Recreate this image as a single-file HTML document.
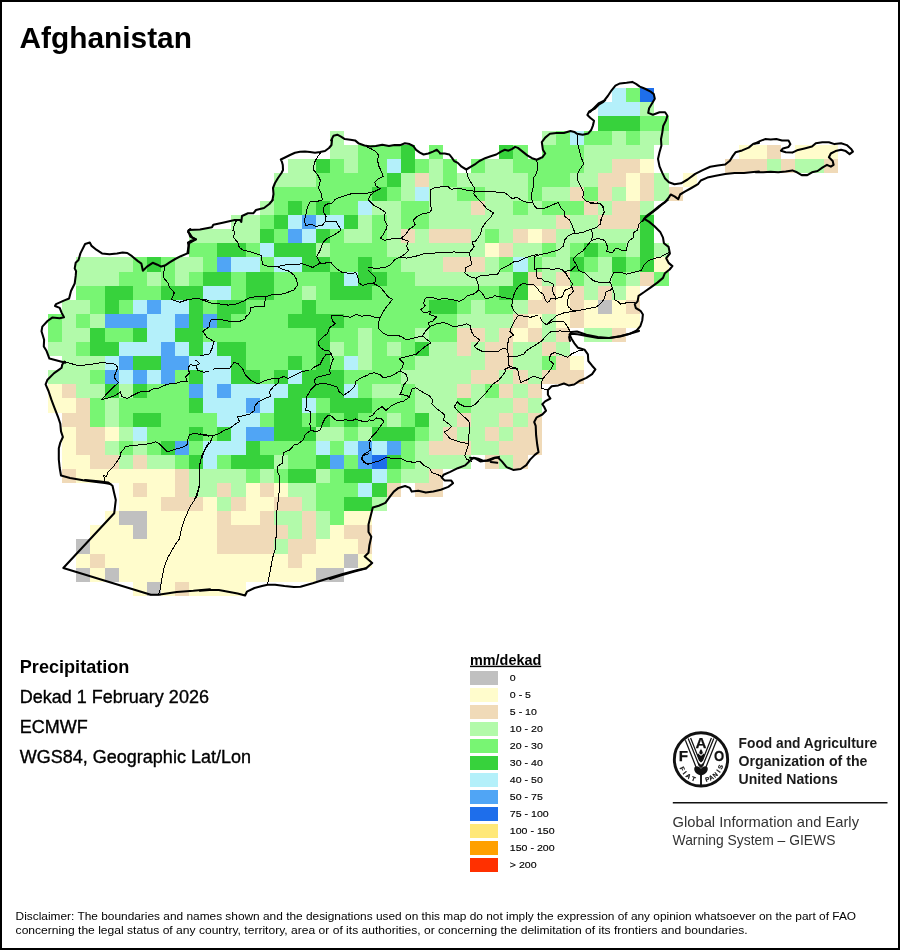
<!DOCTYPE html>
<html><head><meta charset="utf-8"><title>Afghanistan Precipitation</title>
<style>
html,body{margin:0;padding:0;background:#fff;}
body{width:900px;height:950px;overflow:hidden;font-family:"Liberation Sans",sans-serif;}
svg{display:block;position:absolute;left:0;top:0;will-change:transform;}
text{font-family:"Liberation Sans",sans-serif;fill:#000;}
</style></head><body>
<svg width="900" height="950" viewBox="0 0 900 950">
<rect x="0" y="0" width="900" height="950" fill="#fff"/>
<g shape-rendering="crispEdges">
<rect x="612" y="88" width="14" height="14" fill="#b4f0fa"/>
<rect x="626" y="88" width="14" height="14" fill="#78f573"/>
<rect x="640" y="88" width="14" height="14" fill="#1e6eeb"/>
<rect x="598" y="102" width="42" height="14" fill="#b4f0fa"/>
<rect x="640" y="102" width="14" height="14" fill="#b2faaa"/>
<rect x="598" y="116" width="42" height="15" fill="#37d23c"/>
<rect x="640" y="116" width="29" height="15" fill="#78f573"/>
<rect x="330" y="131" width="14" height="14" fill="#b2faaa"/>
<rect x="542" y="131" width="14" height="14" fill="#b2faaa"/>
<rect x="556" y="131" width="14" height="14" fill="#78f573"/>
<rect x="570" y="131" width="14" height="14" fill="#b4f0fa"/>
<rect x="584" y="131" width="28" height="14" fill="#78f573"/>
<rect x="612" y="131" width="14" height="14" fill="#b2faaa"/>
<rect x="626" y="131" width="14" height="14" fill="#78f573"/>
<rect x="640" y="131" width="29" height="14" fill="#b2faaa"/>
<rect x="330" y="145" width="28" height="14" fill="#b2faaa"/>
<rect x="358" y="145" width="43" height="14" fill="#78f573"/>
<rect x="401" y="145" width="14" height="14" fill="#37d23c"/>
<rect x="429" y="145" width="14" height="14" fill="#78f573"/>
<rect x="499" y="145" width="14" height="14" fill="#37d23c"/>
<rect x="513" y="145" width="15" height="14" fill="#78f573"/>
<rect x="542" y="145" width="42" height="14" fill="#78f573"/>
<rect x="584" y="145" width="70" height="14" fill="#b2faaa"/>
<rect x="739" y="145" width="28" height="14" fill="#fffccc"/>
<rect x="767" y="145" width="14" height="14" fill="#f0dab8"/>
<rect x="795" y="145" width="43" height="14" fill="#fffccc"/>
<rect x="288" y="159" width="28" height="14" fill="#b2faaa"/>
<rect x="316" y="159" width="14" height="14" fill="#37d23c"/>
<rect x="330" y="159" width="14" height="14" fill="#78f573"/>
<rect x="344" y="159" width="14" height="14" fill="#b2faaa"/>
<rect x="358" y="159" width="29" height="14" fill="#78f573"/>
<rect x="387" y="159" width="14" height="14" fill="#b4f0fa"/>
<rect x="401" y="159" width="14" height="14" fill="#37d23c"/>
<rect x="415" y="159" width="14" height="14" fill="#78f573"/>
<rect x="429" y="159" width="14" height="14" fill="#b2faaa"/>
<rect x="443" y="159" width="14" height="14" fill="#78f573"/>
<rect x="471" y="159" width="14" height="14" fill="#78f573"/>
<rect x="485" y="159" width="28" height="14" fill="#b2faaa"/>
<rect x="513" y="159" width="71" height="14" fill="#78f573"/>
<rect x="584" y="159" width="28" height="14" fill="#b2faaa"/>
<rect x="612" y="159" width="28" height="14" fill="#f0dab8"/>
<rect x="640" y="159" width="14" height="14" fill="#fffccc"/>
<rect x="725" y="159" width="42" height="14" fill="#f0dab8"/>
<rect x="767" y="159" width="14" height="14" fill="#b2faaa"/>
<rect x="781" y="159" width="14" height="14" fill="#f0dab8"/>
<rect x="795" y="159" width="29" height="14" fill="#b2faaa"/>
<rect x="824" y="159" width="14" height="14" fill="#f0dab8"/>
<rect x="274" y="173" width="42" height="14" fill="#b2faaa"/>
<rect x="316" y="173" width="71" height="14" fill="#78f573"/>
<rect x="387" y="173" width="14" height="14" fill="#37d23c"/>
<rect x="401" y="173" width="14" height="14" fill="#b2faaa"/>
<rect x="415" y="173" width="14" height="14" fill="#f0dab8"/>
<rect x="429" y="173" width="14" height="14" fill="#b2faaa"/>
<rect x="443" y="173" width="14" height="14" fill="#78f573"/>
<rect x="457" y="173" width="71" height="14" fill="#b2faaa"/>
<rect x="528" y="173" width="42" height="14" fill="#78f573"/>
<rect x="570" y="173" width="28" height="14" fill="#b2faaa"/>
<rect x="598" y="173" width="28" height="14" fill="#f0dab8"/>
<rect x="626" y="173" width="14" height="14" fill="#fffccc"/>
<rect x="640" y="173" width="14" height="14" fill="#f0dab8"/>
<rect x="654" y="173" width="15" height="14" fill="#b2faaa"/>
<rect x="683" y="173" width="14" height="14" fill="#fffccc"/>
<rect x="274" y="187" width="98" height="14" fill="#78f573"/>
<rect x="372" y="187" width="15" height="14" fill="#37d23c"/>
<rect x="387" y="187" width="14" height="14" fill="#78f573"/>
<rect x="401" y="187" width="14" height="14" fill="#b2faaa"/>
<rect x="415" y="187" width="14" height="14" fill="#b4f0fa"/>
<rect x="429" y="187" width="28" height="14" fill="#b2faaa"/>
<rect x="457" y="187" width="28" height="14" fill="#78f573"/>
<rect x="485" y="187" width="43" height="14" fill="#b2faaa"/>
<rect x="528" y="187" width="14" height="14" fill="#78f573"/>
<rect x="542" y="187" width="28" height="14" fill="#b2faaa"/>
<rect x="570" y="187" width="14" height="14" fill="#f0dab8"/>
<rect x="584" y="187" width="14" height="14" fill="#78f573"/>
<rect x="598" y="187" width="14" height="14" fill="#f0dab8"/>
<rect x="612" y="187" width="14" height="14" fill="#b2faaa"/>
<rect x="626" y="187" width="14" height="14" fill="#fffccc"/>
<rect x="640" y="187" width="14" height="14" fill="#f0dab8"/>
<rect x="654" y="187" width="15" height="14" fill="#b2faaa"/>
<rect x="669" y="187" width="14" height="14" fill="#f0dab8"/>
<rect x="260" y="201" width="14" height="14" fill="#b2faaa"/>
<rect x="274" y="201" width="14" height="14" fill="#78f573"/>
<rect x="288" y="201" width="14" height="14" fill="#37d23c"/>
<rect x="302" y="201" width="14" height="14" fill="#78f573"/>
<rect x="316" y="201" width="14" height="14" fill="#37d23c"/>
<rect x="330" y="201" width="28" height="14" fill="#78f573"/>
<rect x="358" y="201" width="14" height="14" fill="#b4f0fa"/>
<rect x="372" y="201" width="29" height="14" fill="#b2faaa"/>
<rect x="401" y="201" width="28" height="14" fill="#78f573"/>
<rect x="429" y="201" width="42" height="14" fill="#b2faaa"/>
<rect x="471" y="201" width="14" height="14" fill="#f0dab8"/>
<rect x="485" y="201" width="28" height="14" fill="#b2faaa"/>
<rect x="513" y="201" width="15" height="14" fill="#78f573"/>
<rect x="528" y="201" width="14" height="14" fill="#b2faaa"/>
<rect x="542" y="201" width="42" height="14" fill="#78f573"/>
<rect x="584" y="201" width="14" height="14" fill="#f0dab8"/>
<rect x="598" y="201" width="14" height="14" fill="#b2faaa"/>
<rect x="612" y="201" width="28" height="14" fill="#f0dab8"/>
<rect x="640" y="201" width="14" height="14" fill="#b2faaa"/>
<rect x="231" y="215" width="29" height="14" fill="#b2faaa"/>
<rect x="260" y="215" width="14" height="14" fill="#78f573"/>
<rect x="274" y="215" width="14" height="14" fill="#37d23c"/>
<rect x="288" y="215" width="14" height="14" fill="#b4f0fa"/>
<rect x="302" y="215" width="14" height="14" fill="#50a5f5"/>
<rect x="316" y="215" width="28" height="14" fill="#b4f0fa"/>
<rect x="344" y="215" width="14" height="14" fill="#37d23c"/>
<rect x="358" y="215" width="14" height="14" fill="#b2faaa"/>
<rect x="372" y="215" width="15" height="14" fill="#78f573"/>
<rect x="387" y="215" width="14" height="14" fill="#b2faaa"/>
<rect x="401" y="215" width="28" height="14" fill="#78f573"/>
<rect x="429" y="215" width="127" height="14" fill="#b2faaa"/>
<rect x="556" y="215" width="14" height="14" fill="#f0dab8"/>
<rect x="570" y="215" width="28" height="14" fill="#b2faaa"/>
<rect x="598" y="215" width="42" height="14" fill="#f0dab8"/>
<rect x="640" y="215" width="14" height="14" fill="#37d23c"/>
<rect x="189" y="229" width="71" height="14" fill="#b2faaa"/>
<rect x="260" y="229" width="14" height="14" fill="#37d23c"/>
<rect x="274" y="229" width="14" height="14" fill="#78f573"/>
<rect x="288" y="229" width="14" height="14" fill="#50a5f5"/>
<rect x="302" y="229" width="14" height="14" fill="#b4f0fa"/>
<rect x="316" y="229" width="14" height="14" fill="#37d23c"/>
<rect x="330" y="229" width="14" height="14" fill="#78f573"/>
<rect x="344" y="229" width="28" height="14" fill="#b2faaa"/>
<rect x="372" y="229" width="15" height="14" fill="#78f573"/>
<rect x="387" y="229" width="14" height="14" fill="#b2faaa"/>
<rect x="401" y="229" width="14" height="14" fill="#f0dab8"/>
<rect x="415" y="229" width="14" height="14" fill="#b2faaa"/>
<rect x="429" y="229" width="42" height="14" fill="#f0dab8"/>
<rect x="471" y="229" width="14" height="14" fill="#b2faaa"/>
<rect x="485" y="229" width="14" height="14" fill="#78f573"/>
<rect x="499" y="229" width="14" height="14" fill="#b2faaa"/>
<rect x="513" y="229" width="15" height="14" fill="#f0dab8"/>
<rect x="528" y="229" width="14" height="14" fill="#fffccc"/>
<rect x="542" y="229" width="14" height="14" fill="#f0dab8"/>
<rect x="556" y="229" width="84" height="14" fill="#b2faaa"/>
<rect x="640" y="229" width="14" height="14" fill="#37d23c"/>
<rect x="189" y="243" width="28" height="14" fill="#78f573"/>
<rect x="217" y="243" width="29" height="14" fill="#37d23c"/>
<rect x="246" y="243" width="14" height="14" fill="#78f573"/>
<rect x="260" y="243" width="14" height="14" fill="#b4f0fa"/>
<rect x="274" y="243" width="42" height="14" fill="#37d23c"/>
<rect x="316" y="243" width="14" height="14" fill="#b2faaa"/>
<rect x="330" y="243" width="57" height="14" fill="#78f573"/>
<rect x="387" y="243" width="98" height="14" fill="#b2faaa"/>
<rect x="485" y="243" width="14" height="14" fill="#fffccc"/>
<rect x="499" y="243" width="14" height="14" fill="#f0dab8"/>
<rect x="513" y="243" width="29" height="14" fill="#b2faaa"/>
<rect x="542" y="243" width="14" height="14" fill="#78f573"/>
<rect x="556" y="243" width="14" height="14" fill="#b2faaa"/>
<rect x="570" y="243" width="14" height="14" fill="#78f573"/>
<rect x="584" y="243" width="14" height="14" fill="#37d23c"/>
<rect x="598" y="243" width="28" height="14" fill="#78f573"/>
<rect x="626" y="243" width="14" height="14" fill="#b2faaa"/>
<rect x="640" y="243" width="14" height="14" fill="#37d23c"/>
<rect x="654" y="243" width="15" height="14" fill="#b2faaa"/>
<rect x="76" y="257" width="57" height="15" fill="#b2faaa"/>
<rect x="133" y="257" width="14" height="15" fill="#78f573"/>
<rect x="147" y="257" width="14" height="15" fill="#37d23c"/>
<rect x="161" y="257" width="14" height="15" fill="#78f573"/>
<rect x="175" y="257" width="28" height="15" fill="#b2faaa"/>
<rect x="203" y="257" width="14" height="15" fill="#78f573"/>
<rect x="217" y="257" width="14" height="15" fill="#50a5f5"/>
<rect x="231" y="257" width="29" height="15" fill="#b4f0fa"/>
<rect x="260" y="257" width="14" height="15" fill="#78f573"/>
<rect x="274" y="257" width="28" height="15" fill="#b4f0fa"/>
<rect x="302" y="257" width="28" height="15" fill="#37d23c"/>
<rect x="330" y="257" width="28" height="15" fill="#78f573"/>
<rect x="358" y="257" width="14" height="15" fill="#37d23c"/>
<rect x="372" y="257" width="29" height="15" fill="#78f573"/>
<rect x="401" y="257" width="42" height="15" fill="#b2faaa"/>
<rect x="443" y="257" width="42" height="15" fill="#f0dab8"/>
<rect x="485" y="257" width="14" height="15" fill="#b2faaa"/>
<rect x="499" y="257" width="14" height="15" fill="#78f573"/>
<rect x="513" y="257" width="15" height="15" fill="#b4f0fa"/>
<rect x="528" y="257" width="14" height="15" fill="#78f573"/>
<rect x="542" y="257" width="28" height="15" fill="#b2faaa"/>
<rect x="570" y="257" width="14" height="15" fill="#37d23c"/>
<rect x="584" y="257" width="14" height="15" fill="#78f573"/>
<rect x="598" y="257" width="14" height="15" fill="#b2faaa"/>
<rect x="612" y="257" width="14" height="15" fill="#37d23c"/>
<rect x="626" y="257" width="14" height="15" fill="#78f573"/>
<rect x="640" y="257" width="14" height="15" fill="#37d23c"/>
<rect x="654" y="257" width="15" height="15" fill="#fffccc"/>
<rect x="76" y="272" width="43" height="14" fill="#b2faaa"/>
<rect x="119" y="272" width="28" height="14" fill="#78f573"/>
<rect x="147" y="272" width="14" height="14" fill="#b2faaa"/>
<rect x="161" y="272" width="14" height="14" fill="#78f573"/>
<rect x="175" y="272" width="14" height="14" fill="#b2faaa"/>
<rect x="189" y="272" width="14" height="14" fill="#78f573"/>
<rect x="203" y="272" width="28" height="14" fill="#37d23c"/>
<rect x="231" y="272" width="15" height="14" fill="#78f573"/>
<rect x="246" y="272" width="28" height="14" fill="#37d23c"/>
<rect x="274" y="272" width="56" height="14" fill="#78f573"/>
<rect x="330" y="272" width="14" height="14" fill="#37d23c"/>
<rect x="344" y="272" width="14" height="14" fill="#b4f0fa"/>
<rect x="358" y="272" width="29" height="14" fill="#37d23c"/>
<rect x="387" y="272" width="28" height="14" fill="#78f573"/>
<rect x="415" y="272" width="98" height="14" fill="#b2faaa"/>
<rect x="513" y="272" width="15" height="14" fill="#37d23c"/>
<rect x="528" y="272" width="14" height="14" fill="#f0dab8"/>
<rect x="542" y="272" width="14" height="14" fill="#b2faaa"/>
<rect x="556" y="272" width="14" height="14" fill="#f0dab8"/>
<rect x="570" y="272" width="14" height="14" fill="#78f573"/>
<rect x="584" y="272" width="28" height="14" fill="#b2faaa"/>
<rect x="612" y="272" width="14" height="14" fill="#78f573"/>
<rect x="626" y="272" width="14" height="14" fill="#b2faaa"/>
<rect x="640" y="272" width="14" height="14" fill="#f0dab8"/>
<rect x="654" y="272" width="15" height="14" fill="#78f573"/>
<rect x="76" y="286" width="29" height="14" fill="#78f573"/>
<rect x="105" y="286" width="28" height="14" fill="#37d23c"/>
<rect x="133" y="286" width="28" height="14" fill="#78f573"/>
<rect x="161" y="286" width="42" height="14" fill="#37d23c"/>
<rect x="203" y="286" width="28" height="14" fill="#b4f0fa"/>
<rect x="231" y="286" width="15" height="14" fill="#78f573"/>
<rect x="246" y="286" width="28" height="14" fill="#37d23c"/>
<rect x="274" y="286" width="28" height="14" fill="#78f573"/>
<rect x="302" y="286" width="14" height="14" fill="#b2faaa"/>
<rect x="316" y="286" width="14" height="14" fill="#78f573"/>
<rect x="330" y="286" width="42" height="14" fill="#37d23c"/>
<rect x="372" y="286" width="127" height="14" fill="#78f573"/>
<rect x="499" y="286" width="29" height="14" fill="#37d23c"/>
<rect x="528" y="286" width="14" height="14" fill="#fffccc"/>
<rect x="542" y="286" width="14" height="14" fill="#f0dab8"/>
<rect x="556" y="286" width="14" height="14" fill="#fffccc"/>
<rect x="570" y="286" width="14" height="14" fill="#f0dab8"/>
<rect x="584" y="286" width="14" height="14" fill="#b2faaa"/>
<rect x="598" y="286" width="14" height="14" fill="#f0dab8"/>
<rect x="612" y="286" width="14" height="14" fill="#b2faaa"/>
<rect x="626" y="286" width="14" height="14" fill="#fffccc"/>
<rect x="62" y="300" width="28" height="14" fill="#b2faaa"/>
<rect x="90" y="300" width="15" height="14" fill="#78f573"/>
<rect x="105" y="300" width="14" height="14" fill="#37d23c"/>
<rect x="119" y="300" width="14" height="14" fill="#78f573"/>
<rect x="133" y="300" width="14" height="14" fill="#b4f0fa"/>
<rect x="147" y="300" width="14" height="14" fill="#50a5f5"/>
<rect x="161" y="300" width="28" height="14" fill="#b4f0fa"/>
<rect x="189" y="300" width="14" height="14" fill="#37d23c"/>
<rect x="203" y="300" width="14" height="14" fill="#78f573"/>
<rect x="217" y="300" width="29" height="14" fill="#37d23c"/>
<rect x="246" y="300" width="56" height="14" fill="#78f573"/>
<rect x="302" y="300" width="14" height="14" fill="#37d23c"/>
<rect x="316" y="300" width="113" height="14" fill="#78f573"/>
<rect x="429" y="300" width="28" height="14" fill="#37d23c"/>
<rect x="457" y="300" width="14" height="14" fill="#78f573"/>
<rect x="471" y="300" width="14" height="14" fill="#b2faaa"/>
<rect x="485" y="300" width="28" height="14" fill="#78f573"/>
<rect x="513" y="300" width="15" height="14" fill="#b2faaa"/>
<rect x="528" y="300" width="28" height="14" fill="#f0dab8"/>
<rect x="556" y="300" width="14" height="14" fill="#fffccc"/>
<rect x="570" y="300" width="14" height="14" fill="#f0dab8"/>
<rect x="584" y="300" width="14" height="14" fill="#fffccc"/>
<rect x="598" y="300" width="14" height="14" fill="#c0c0c0"/>
<rect x="612" y="300" width="14" height="14" fill="#fffccc"/>
<rect x="626" y="300" width="14" height="14" fill="#f0dab8"/>
<rect x="48" y="314" width="14" height="14" fill="#78f573"/>
<rect x="62" y="314" width="14" height="14" fill="#b2faaa"/>
<rect x="76" y="314" width="14" height="14" fill="#78f573"/>
<rect x="90" y="314" width="15" height="14" fill="#b2faaa"/>
<rect x="105" y="314" width="42" height="14" fill="#50a5f5"/>
<rect x="147" y="314" width="28" height="14" fill="#b4f0fa"/>
<rect x="175" y="314" width="14" height="14" fill="#50a5f5"/>
<rect x="189" y="314" width="14" height="14" fill="#37d23c"/>
<rect x="203" y="314" width="14" height="14" fill="#50a5f5"/>
<rect x="217" y="314" width="14" height="14" fill="#37d23c"/>
<rect x="231" y="314" width="57" height="14" fill="#78f573"/>
<rect x="288" y="314" width="56" height="14" fill="#37d23c"/>
<rect x="344" y="314" width="113" height="14" fill="#78f573"/>
<rect x="457" y="314" width="56" height="14" fill="#b2faaa"/>
<rect x="513" y="314" width="15" height="14" fill="#f0dab8"/>
<rect x="528" y="314" width="14" height="14" fill="#fffccc"/>
<rect x="542" y="314" width="14" height="14" fill="#b2faaa"/>
<rect x="556" y="314" width="14" height="14" fill="#fffccc"/>
<rect x="570" y="314" width="14" height="14" fill="#f0dab8"/>
<rect x="584" y="314" width="56" height="14" fill="#fffccc"/>
<rect x="48" y="328" width="14" height="14" fill="#78f573"/>
<rect x="62" y="328" width="28" height="14" fill="#b2faaa"/>
<rect x="90" y="328" width="15" height="14" fill="#37d23c"/>
<rect x="105" y="328" width="28" height="14" fill="#78f573"/>
<rect x="133" y="328" width="14" height="14" fill="#37d23c"/>
<rect x="147" y="328" width="28" height="14" fill="#b4f0fa"/>
<rect x="175" y="328" width="28" height="14" fill="#37d23c"/>
<rect x="203" y="328" width="113" height="14" fill="#78f573"/>
<rect x="316" y="328" width="14" height="14" fill="#37d23c"/>
<rect x="330" y="328" width="28" height="14" fill="#78f573"/>
<rect x="358" y="328" width="14" height="14" fill="#b2faaa"/>
<rect x="372" y="328" width="43" height="14" fill="#78f573"/>
<rect x="415" y="328" width="14" height="14" fill="#b2faaa"/>
<rect x="429" y="328" width="28" height="14" fill="#78f573"/>
<rect x="457" y="328" width="28" height="14" fill="#f0dab8"/>
<rect x="485" y="328" width="14" height="14" fill="#b2faaa"/>
<rect x="499" y="328" width="14" height="14" fill="#f0dab8"/>
<rect x="513" y="328" width="15" height="14" fill="#fffccc"/>
<rect x="528" y="328" width="14" height="14" fill="#f0dab8"/>
<rect x="542" y="328" width="14" height="14" fill="#b2faaa"/>
<rect x="556" y="328" width="14" height="14" fill="#f0dab8"/>
<rect x="584" y="328" width="28" height="14" fill="#b2faaa"/>
<rect x="612" y="328" width="14" height="14" fill="#f0dab8"/>
<rect x="48" y="342" width="28" height="14" fill="#b2faaa"/>
<rect x="76" y="342" width="14" height="14" fill="#78f573"/>
<rect x="90" y="342" width="29" height="14" fill="#37d23c"/>
<rect x="119" y="342" width="42" height="14" fill="#b4f0fa"/>
<rect x="161" y="342" width="14" height="14" fill="#50a5f5"/>
<rect x="175" y="342" width="14" height="14" fill="#b4f0fa"/>
<rect x="189" y="342" width="14" height="14" fill="#37d23c"/>
<rect x="203" y="342" width="14" height="14" fill="#b4f0fa"/>
<rect x="217" y="342" width="29" height="14" fill="#37d23c"/>
<rect x="246" y="342" width="70" height="14" fill="#78f573"/>
<rect x="316" y="342" width="14" height="14" fill="#37d23c"/>
<rect x="330" y="342" width="14" height="14" fill="#b2faaa"/>
<rect x="344" y="342" width="14" height="14" fill="#78f573"/>
<rect x="358" y="342" width="14" height="14" fill="#b2faaa"/>
<rect x="372" y="342" width="15" height="14" fill="#78f573"/>
<rect x="387" y="342" width="14" height="14" fill="#b2faaa"/>
<rect x="401" y="342" width="14" height="14" fill="#78f573"/>
<rect x="415" y="342" width="14" height="14" fill="#37d23c"/>
<rect x="429" y="342" width="28" height="14" fill="#b2faaa"/>
<rect x="457" y="342" width="14" height="14" fill="#f0dab8"/>
<rect x="471" y="342" width="14" height="14" fill="#b2faaa"/>
<rect x="485" y="342" width="28" height="14" fill="#f0dab8"/>
<rect x="513" y="342" width="29" height="14" fill="#b2faaa"/>
<rect x="542" y="342" width="14" height="14" fill="#f0dab8"/>
<rect x="556" y="342" width="14" height="14" fill="#b2faaa"/>
<rect x="62" y="356" width="43" height="14" fill="#b2faaa"/>
<rect x="105" y="356" width="14" height="14" fill="#b4f0fa"/>
<rect x="119" y="356" width="14" height="14" fill="#50a5f5"/>
<rect x="133" y="356" width="28" height="14" fill="#37d23c"/>
<rect x="161" y="356" width="28" height="14" fill="#50a5f5"/>
<rect x="189" y="356" width="42" height="14" fill="#b4f0fa"/>
<rect x="231" y="356" width="15" height="14" fill="#37d23c"/>
<rect x="246" y="356" width="42" height="14" fill="#78f573"/>
<rect x="288" y="356" width="14" height="14" fill="#37d23c"/>
<rect x="302" y="356" width="14" height="14" fill="#78f573"/>
<rect x="316" y="356" width="14" height="14" fill="#37d23c"/>
<rect x="330" y="356" width="14" height="14" fill="#78f573"/>
<rect x="344" y="356" width="14" height="14" fill="#b4f0fa"/>
<rect x="358" y="356" width="14" height="14" fill="#b2faaa"/>
<rect x="372" y="356" width="43" height="14" fill="#78f573"/>
<rect x="415" y="356" width="70" height="14" fill="#b2faaa"/>
<rect x="485" y="356" width="28" height="14" fill="#f0dab8"/>
<rect x="513" y="356" width="29" height="14" fill="#b2faaa"/>
<rect x="542" y="356" width="14" height="14" fill="#78f573"/>
<rect x="556" y="356" width="14" height="14" fill="#f0dab8"/>
<rect x="570" y="356" width="14" height="14" fill="#fffccc"/>
<rect x="48" y="370" width="42" height="14" fill="#b2faaa"/>
<rect x="90" y="370" width="15" height="14" fill="#78f573"/>
<rect x="105" y="370" width="14" height="14" fill="#50a5f5"/>
<rect x="119" y="370" width="14" height="14" fill="#b4f0fa"/>
<rect x="133" y="370" width="14" height="14" fill="#50a5f5"/>
<rect x="147" y="370" width="14" height="14" fill="#b4f0fa"/>
<rect x="161" y="370" width="14" height="14" fill="#50a5f5"/>
<rect x="175" y="370" width="14" height="14" fill="#78f573"/>
<rect x="189" y="370" width="14" height="14" fill="#37d23c"/>
<rect x="203" y="370" width="28" height="14" fill="#b4f0fa"/>
<rect x="231" y="370" width="29" height="14" fill="#37d23c"/>
<rect x="260" y="370" width="14" height="14" fill="#78f573"/>
<rect x="274" y="370" width="14" height="14" fill="#37d23c"/>
<rect x="288" y="370" width="14" height="14" fill="#b4f0fa"/>
<rect x="302" y="370" width="42" height="14" fill="#37d23c"/>
<rect x="344" y="370" width="57" height="14" fill="#78f573"/>
<rect x="401" y="370" width="70" height="14" fill="#b2faaa"/>
<rect x="471" y="370" width="28" height="14" fill="#f0dab8"/>
<rect x="499" y="370" width="14" height="14" fill="#b2faaa"/>
<rect x="513" y="370" width="15" height="14" fill="#f0dab8"/>
<rect x="528" y="370" width="14" height="14" fill="#b2faaa"/>
<rect x="542" y="370" width="42" height="14" fill="#f0dab8"/>
<rect x="48" y="384" width="14" height="14" fill="#fffccc"/>
<rect x="62" y="384" width="14" height="14" fill="#f0dab8"/>
<rect x="76" y="384" width="29" height="14" fill="#b2faaa"/>
<rect x="105" y="384" width="14" height="14" fill="#37d23c"/>
<rect x="119" y="384" width="14" height="14" fill="#b2faaa"/>
<rect x="133" y="384" width="14" height="14" fill="#37d23c"/>
<rect x="147" y="384" width="42" height="14" fill="#78f573"/>
<rect x="189" y="384" width="14" height="14" fill="#50a5f5"/>
<rect x="203" y="384" width="14" height="14" fill="#b4f0fa"/>
<rect x="217" y="384" width="14" height="14" fill="#50a5f5"/>
<rect x="231" y="384" width="57" height="14" fill="#b4f0fa"/>
<rect x="288" y="384" width="56" height="14" fill="#37d23c"/>
<rect x="344" y="384" width="14" height="14" fill="#b4f0fa"/>
<rect x="358" y="384" width="14" height="14" fill="#78f573"/>
<rect x="372" y="384" width="29" height="14" fill="#b2faaa"/>
<rect x="401" y="384" width="14" height="14" fill="#78f573"/>
<rect x="415" y="384" width="42" height="14" fill="#b2faaa"/>
<rect x="457" y="384" width="14" height="14" fill="#f0dab8"/>
<rect x="471" y="384" width="14" height="14" fill="#b2faaa"/>
<rect x="485" y="384" width="14" height="14" fill="#78f573"/>
<rect x="499" y="384" width="14" height="14" fill="#f0dab8"/>
<rect x="513" y="384" width="15" height="14" fill="#b2faaa"/>
<rect x="528" y="384" width="14" height="14" fill="#f0dab8"/>
<rect x="48" y="398" width="28" height="15" fill="#fffccc"/>
<rect x="76" y="398" width="14" height="15" fill="#f0dab8"/>
<rect x="90" y="398" width="15" height="15" fill="#78f573"/>
<rect x="105" y="398" width="14" height="15" fill="#b2faaa"/>
<rect x="119" y="398" width="70" height="15" fill="#78f573"/>
<rect x="189" y="398" width="14" height="15" fill="#37d23c"/>
<rect x="203" y="398" width="43" height="15" fill="#b4f0fa"/>
<rect x="246" y="398" width="14" height="15" fill="#50a5f5"/>
<rect x="260" y="398" width="14" height="15" fill="#b4f0fa"/>
<rect x="274" y="398" width="28" height="15" fill="#37d23c"/>
<rect x="302" y="398" width="14" height="15" fill="#b4f0fa"/>
<rect x="316" y="398" width="14" height="15" fill="#78f573"/>
<rect x="330" y="398" width="42" height="15" fill="#37d23c"/>
<rect x="372" y="398" width="43" height="15" fill="#78f573"/>
<rect x="415" y="398" width="42" height="15" fill="#b2faaa"/>
<rect x="457" y="398" width="14" height="15" fill="#78f573"/>
<rect x="471" y="398" width="42" height="15" fill="#b2faaa"/>
<rect x="513" y="398" width="15" height="15" fill="#f0dab8"/>
<rect x="528" y="398" width="14" height="15" fill="#b2faaa"/>
<rect x="62" y="413" width="28" height="14" fill="#f0dab8"/>
<rect x="90" y="413" width="15" height="14" fill="#78f573"/>
<rect x="105" y="413" width="14" height="14" fill="#b2faaa"/>
<rect x="119" y="413" width="14" height="14" fill="#78f573"/>
<rect x="133" y="413" width="28" height="14" fill="#37d23c"/>
<rect x="161" y="413" width="56" height="14" fill="#78f573"/>
<rect x="217" y="413" width="43" height="14" fill="#b4f0fa"/>
<rect x="260" y="413" width="14" height="14" fill="#78f573"/>
<rect x="274" y="413" width="28" height="14" fill="#37d23c"/>
<rect x="302" y="413" width="14" height="14" fill="#78f573"/>
<rect x="316" y="413" width="14" height="14" fill="#37d23c"/>
<rect x="330" y="413" width="14" height="14" fill="#78f573"/>
<rect x="344" y="413" width="14" height="14" fill="#37d23c"/>
<rect x="358" y="413" width="29" height="14" fill="#78f573"/>
<rect x="387" y="413" width="14" height="14" fill="#b2faaa"/>
<rect x="401" y="413" width="14" height="14" fill="#78f573"/>
<rect x="415" y="413" width="14" height="14" fill="#37d23c"/>
<rect x="429" y="413" width="28" height="14" fill="#b2faaa"/>
<rect x="457" y="413" width="14" height="14" fill="#f0dab8"/>
<rect x="471" y="413" width="28" height="14" fill="#b2faaa"/>
<rect x="499" y="413" width="14" height="14" fill="#f0dab8"/>
<rect x="513" y="413" width="15" height="14" fill="#b2faaa"/>
<rect x="528" y="413" width="14" height="14" fill="#f0dab8"/>
<rect x="62" y="427" width="14" height="14" fill="#fffccc"/>
<rect x="76" y="427" width="29" height="14" fill="#f0dab8"/>
<rect x="105" y="427" width="14" height="14" fill="#fffccc"/>
<rect x="119" y="427" width="14" height="14" fill="#b2faaa"/>
<rect x="133" y="427" width="14" height="14" fill="#b4f0fa"/>
<rect x="147" y="427" width="42" height="14" fill="#78f573"/>
<rect x="189" y="427" width="14" height="14" fill="#37d23c"/>
<rect x="203" y="427" width="14" height="14" fill="#78f573"/>
<rect x="217" y="427" width="14" height="14" fill="#37d23c"/>
<rect x="231" y="427" width="15" height="14" fill="#b4f0fa"/>
<rect x="246" y="427" width="28" height="14" fill="#50a5f5"/>
<rect x="274" y="427" width="42" height="14" fill="#37d23c"/>
<rect x="316" y="427" width="28" height="14" fill="#b2faaa"/>
<rect x="344" y="427" width="14" height="14" fill="#78f573"/>
<rect x="358" y="427" width="14" height="14" fill="#b2faaa"/>
<rect x="372" y="427" width="43" height="14" fill="#37d23c"/>
<rect x="415" y="427" width="14" height="14" fill="#78f573"/>
<rect x="429" y="427" width="14" height="14" fill="#b2faaa"/>
<rect x="443" y="427" width="14" height="14" fill="#f0dab8"/>
<rect x="457" y="427" width="28" height="14" fill="#b2faaa"/>
<rect x="485" y="427" width="14" height="14" fill="#f0dab8"/>
<rect x="499" y="427" width="14" height="14" fill="#b2faaa"/>
<rect x="513" y="427" width="29" height="14" fill="#f0dab8"/>
<rect x="62" y="441" width="14" height="14" fill="#fffccc"/>
<rect x="76" y="441" width="29" height="14" fill="#f0dab8"/>
<rect x="105" y="441" width="14" height="14" fill="#b2faaa"/>
<rect x="119" y="441" width="14" height="14" fill="#78f573"/>
<rect x="133" y="441" width="14" height="14" fill="#b2faaa"/>
<rect x="147" y="441" width="14" height="14" fill="#78f573"/>
<rect x="161" y="441" width="14" height="14" fill="#37d23c"/>
<rect x="175" y="441" width="14" height="14" fill="#50a5f5"/>
<rect x="189" y="441" width="14" height="14" fill="#78f573"/>
<rect x="203" y="441" width="43" height="14" fill="#b4f0fa"/>
<rect x="246" y="441" width="14" height="14" fill="#37d23c"/>
<rect x="260" y="441" width="56" height="14" fill="#78f573"/>
<rect x="316" y="441" width="14" height="14" fill="#b4f0fa"/>
<rect x="330" y="441" width="14" height="14" fill="#78f573"/>
<rect x="344" y="441" width="14" height="14" fill="#b4f0fa"/>
<rect x="358" y="441" width="14" height="14" fill="#50a5f5"/>
<rect x="372" y="441" width="15" height="14" fill="#b4f0fa"/>
<rect x="387" y="441" width="14" height="14" fill="#50a5f5"/>
<rect x="401" y="441" width="14" height="14" fill="#78f573"/>
<rect x="415" y="441" width="14" height="14" fill="#b2faaa"/>
<rect x="429" y="441" width="42" height="14" fill="#f0dab8"/>
<rect x="471" y="441" width="28" height="14" fill="#b2faaa"/>
<rect x="499" y="441" width="43" height="14" fill="#f0dab8"/>
<rect x="62" y="455" width="28" height="14" fill="#fffccc"/>
<rect x="90" y="455" width="29" height="14" fill="#f0dab8"/>
<rect x="119" y="455" width="14" height="14" fill="#b2faaa"/>
<rect x="133" y="455" width="14" height="14" fill="#f0dab8"/>
<rect x="147" y="455" width="28" height="14" fill="#b2faaa"/>
<rect x="175" y="455" width="14" height="14" fill="#78f573"/>
<rect x="189" y="455" width="14" height="14" fill="#37d23c"/>
<rect x="203" y="455" width="14" height="14" fill="#b4f0fa"/>
<rect x="217" y="455" width="14" height="14" fill="#78f573"/>
<rect x="231" y="455" width="43" height="14" fill="#37d23c"/>
<rect x="274" y="455" width="14" height="14" fill="#b2faaa"/>
<rect x="288" y="455" width="28" height="14" fill="#78f573"/>
<rect x="316" y="455" width="14" height="14" fill="#37d23c"/>
<rect x="330" y="455" width="14" height="14" fill="#50a5f5"/>
<rect x="344" y="455" width="14" height="14" fill="#78f573"/>
<rect x="358" y="455" width="14" height="14" fill="#50a5f5"/>
<rect x="372" y="455" width="15" height="14" fill="#1e6eeb"/>
<rect x="387" y="455" width="14" height="14" fill="#37d23c"/>
<rect x="401" y="455" width="14" height="14" fill="#78f573"/>
<rect x="415" y="455" width="56" height="14" fill="#b2faaa"/>
<rect x="485" y="455" width="14" height="14" fill="#f0dab8"/>
<rect x="499" y="455" width="14" height="14" fill="#b2faaa"/>
<rect x="513" y="455" width="15" height="14" fill="#f0dab8"/>
<rect x="62" y="469" width="14" height="14" fill="#f0dab8"/>
<rect x="76" y="469" width="99" height="14" fill="#fffccc"/>
<rect x="175" y="469" width="14" height="14" fill="#f0dab8"/>
<rect x="189" y="469" width="57" height="14" fill="#b2faaa"/>
<rect x="246" y="469" width="14" height="14" fill="#78f573"/>
<rect x="260" y="469" width="14" height="14" fill="#b2faaa"/>
<rect x="274" y="469" width="14" height="14" fill="#78f573"/>
<rect x="288" y="469" width="28" height="14" fill="#37d23c"/>
<rect x="316" y="469" width="14" height="14" fill="#b2faaa"/>
<rect x="330" y="469" width="14" height="14" fill="#78f573"/>
<rect x="344" y="469" width="28" height="14" fill="#37d23c"/>
<rect x="372" y="469" width="15" height="14" fill="#b4f0fa"/>
<rect x="387" y="469" width="14" height="14" fill="#78f573"/>
<rect x="401" y="469" width="28" height="14" fill="#b2faaa"/>
<rect x="429" y="469" width="14" height="14" fill="#f0dab8"/>
<rect x="119" y="483" width="14" height="14" fill="#fffccc"/>
<rect x="133" y="483" width="14" height="14" fill="#f0dab8"/>
<rect x="147" y="483" width="28" height="14" fill="#fffccc"/>
<rect x="175" y="483" width="14" height="14" fill="#f0dab8"/>
<rect x="189" y="483" width="28" height="14" fill="#b2faaa"/>
<rect x="217" y="483" width="14" height="14" fill="#f0dab8"/>
<rect x="231" y="483" width="15" height="14" fill="#b2faaa"/>
<rect x="246" y="483" width="14" height="14" fill="#fffccc"/>
<rect x="260" y="483" width="14" height="14" fill="#f0dab8"/>
<rect x="274" y="483" width="14" height="14" fill="#fffccc"/>
<rect x="288" y="483" width="28" height="14" fill="#b2faaa"/>
<rect x="316" y="483" width="42" height="14" fill="#78f573"/>
<rect x="358" y="483" width="14" height="14" fill="#b4f0fa"/>
<rect x="372" y="483" width="15" height="14" fill="#37d23c"/>
<rect x="387" y="483" width="14" height="14" fill="#f0dab8"/>
<rect x="415" y="483" width="28" height="14" fill="#f0dab8"/>
<rect x="119" y="497" width="42" height="14" fill="#fffccc"/>
<rect x="161" y="497" width="42" height="14" fill="#f0dab8"/>
<rect x="203" y="497" width="14" height="14" fill="#fffccc"/>
<rect x="217" y="497" width="14" height="14" fill="#b2faaa"/>
<rect x="231" y="497" width="15" height="14" fill="#f0dab8"/>
<rect x="246" y="497" width="28" height="14" fill="#fffccc"/>
<rect x="274" y="497" width="28" height="14" fill="#f0dab8"/>
<rect x="302" y="497" width="14" height="14" fill="#b2faaa"/>
<rect x="316" y="497" width="28" height="14" fill="#78f573"/>
<rect x="344" y="497" width="28" height="14" fill="#37d23c"/>
<rect x="372" y="497" width="15" height="14" fill="#b2faaa"/>
<rect x="105" y="511" width="14" height="14" fill="#fffccc"/>
<rect x="119" y="511" width="28" height="14" fill="#c0c0c0"/>
<rect x="147" y="511" width="70" height="14" fill="#fffccc"/>
<rect x="217" y="511" width="14" height="14" fill="#f0dab8"/>
<rect x="231" y="511" width="29" height="14" fill="#fffccc"/>
<rect x="260" y="511" width="14" height="14" fill="#f0dab8"/>
<rect x="274" y="511" width="28" height="14" fill="#b2faaa"/>
<rect x="302" y="511" width="14" height="14" fill="#f0dab8"/>
<rect x="316" y="511" width="14" height="14" fill="#b2faaa"/>
<rect x="330" y="511" width="14" height="14" fill="#78f573"/>
<rect x="344" y="511" width="28" height="14" fill="#fffccc"/>
<rect x="90" y="525" width="43" height="14" fill="#fffccc"/>
<rect x="133" y="525" width="14" height="14" fill="#c0c0c0"/>
<rect x="147" y="525" width="70" height="14" fill="#fffccc"/>
<rect x="217" y="525" width="71" height="14" fill="#f0dab8"/>
<rect x="288" y="525" width="14" height="14" fill="#b2faaa"/>
<rect x="302" y="525" width="14" height="14" fill="#f0dab8"/>
<rect x="316" y="525" width="14" height="14" fill="#b2faaa"/>
<rect x="330" y="525" width="14" height="14" fill="#fffccc"/>
<rect x="344" y="525" width="28" height="14" fill="#f0dab8"/>
<rect x="76" y="539" width="14" height="15" fill="#c0c0c0"/>
<rect x="90" y="539" width="127" height="15" fill="#fffccc"/>
<rect x="217" y="539" width="57" height="15" fill="#f0dab8"/>
<rect x="274" y="539" width="14" height="15" fill="#b2faaa"/>
<rect x="288" y="539" width="28" height="15" fill="#f0dab8"/>
<rect x="316" y="539" width="42" height="15" fill="#fffccc"/>
<rect x="358" y="539" width="14" height="15" fill="#f0dab8"/>
<rect x="76" y="554" width="14" height="14" fill="#fffccc"/>
<rect x="90" y="554" width="15" height="14" fill="#f0dab8"/>
<rect x="105" y="554" width="183" height="14" fill="#fffccc"/>
<rect x="288" y="554" width="14" height="14" fill="#f0dab8"/>
<rect x="302" y="554" width="42" height="14" fill="#fffccc"/>
<rect x="344" y="554" width="14" height="14" fill="#c0c0c0"/>
<rect x="358" y="554" width="14" height="14" fill="#fffccc"/>
<rect x="76" y="568" width="14" height="14" fill="#c0c0c0"/>
<rect x="90" y="568" width="15" height="14" fill="#fffccc"/>
<rect x="105" y="568" width="14" height="14" fill="#c0c0c0"/>
<rect x="119" y="568" width="197" height="14" fill="#fffccc"/>
<rect x="316" y="568" width="28" height="14" fill="#c0c0c0"/>
<rect x="133" y="582" width="14" height="14" fill="#fffccc"/>
<rect x="147" y="582" width="14" height="14" fill="#c0c0c0"/>
<rect x="161" y="582" width="14" height="14" fill="#fffccc"/>
<rect x="175" y="582" width="14" height="14" fill="#f0dab8"/>
<rect x="189" y="582" width="57" height="14" fill="#fffccc"/>
</g>
<g fill="none" stroke="#000" stroke-width="1" stroke-linejoin="round" stroke-linecap="round" shape-rendering="crispEdges">
<polyline points="164.9,265.6 163.9,272.2 163.6,277.8 167.7,282.5 169.6,287.2 174.3,292.8 171.4,299.4 179.9,302.2 188.3,299.4 195.9,298.5 203.4,299.4 209.0,300.4"/>
<polyline points="64.4,361.5 77.6,365.6 88.8,364.7 100.1,362.8 104.8,362.8 115.1,364.1 117.9,367.5 115.1,374.1 114.2,377.8 118.5,382.5 112.3,388.2 106.7,393.8 102.0,399.4 109.5,397.6 115.1,395.7 120.4,391.9 121.7,396.6 127.3,398.5 132.0,395.7 137.6,392.9 142.3,391.0 148.0,391.9 152.7,389.1 158.3,388.2 163.9,385.4 171.4,383.5 176.1,383.5 180.8,381.6 187.4,381.6 185.5,376.9 189.3,373.1 188.3,367.5 190.2,364.7 195.9,365.6 199.6,363.8 196.8,360.9 194.9,360.0"/>
<polyline points="195.9,365.6 197.7,370.3 203.4,372.2 209.0,371.3"/>
<polyline points="104.8,483.0 103.8,475.5 106.7,476.4 107.6,472.7 113.2,467.0 117.0,461.4 119.8,457.6 120.7,452.9 124.5,448.3 125.4,446.4 133.9,445.4 143.3,444.5 150.8,443.6 155.5,441.7 160.2,444.5 163.9,448.3 167.7,452.0 175.2,449.2 182.7,447.3 187.4,444.5 188.3,437.0 190.2,434.2 195.9,433.6 203.4,435.1 209.0,436.1"/>
<polyline points="209.0,442.6 205.2,448.3 201.9,455.8 199.6,465.2 199.2,476.4 199.6,483.9 197.7,491.4 194.0,501.0"/>
<polyline points="158.3,594.7 160.0,590.0 161.7,580.0 164.2,566.7 168.3,556.7 175.0,545.0 179.2,539.2 181.7,528.3 185.0,518.3 190.0,506.7 196.7,496.7 199.2,486.7 200.0,480.0"/>
<polyline points="279.8,480.0 278.9,495.0 277.0,510.0 276.1,528.8 276.1,536.3 275.1,549.5 272.3,558.9 270.4,570.1 268.5,579.5 267.6,584.8"/>
<polyline points="370.4,440.0 369.4,445.6 370.4,450.3 362.9,455.0 361.9,459.7 367.6,464.4 373.2,462.5 379.8,460.7 386.3,457.3 393.8,458.8 401.4,458.8 407.0,461.6 413.6,462.2 420.1,461.6 423.9,465.4 429.5,468.2 432.3,472.9 438.0,474.7 441.7,476.6"/>
<polyline points="510.4,366.6 515.1,367.6 517.9,370.4 519.2,376.9 520.7,382.6 528.2,379.2 533.8,376.0 538.5,377.9 542.3,379.2 541.4,384.5 541.0,388.2 547.9,390.1"/>
<polyline points="510.4,366.6 504.7,369.4"/>
<polyline points="507.6,356.3 516.9,356.3 523.5,354.4 526.3,350.7 533.8,346.0 541.4,341.3 547.0,334.7 550.7,331.9 560.1,330.9 569.5,331.9"/>
<polyline points="542.3,379.2 547.0,374.1 550.7,369.4 553.6,363.8 548.9,360.0 550.7,354.4 554.5,352.5 560.1,354.4 567.6,357.2 572.3,353.5 578.9,350.7 584.5,349.7"/>
<polyline points="574.7,232.9 568.2,235.7 564.4,240.4 563.5,246.0 558.8,249.8 549.4,252.6 540.0,254.8 537.7,255.6 534.9,256.3"/>
<polyline points="591.6,229.7 592.6,235.7 591.6,240.4 598.2,238.5 604.8,240.4 607.6,246.9 606.7,251.6 612.3,252.6 616.0,247.9 621.7,250.3 626.4,250.7 627.3,245.1 629.2,240.4 633.9,237.6 633.0,232.9 637.6,230.0 638.6,224.4 642.3,220.7 644.2,218.8"/>
<polyline points="591.6,240.4 586.9,246.0 583.2,250.7 577.6,254.5 572.9,259.1 576.6,264.8 578.5,270.4 585.1,273.2 588.8,277.0 593.5,280.7 600.1,282.6 609.5,282.2 611.4,277.0 614.2,272.3 620.7,272.3 626.4,274.2 633.9,272.3 641.4,270.4 644.2,264.8 648.0,261.0 654.5,258.2 660.2,257.3 664.9,254.5 668.6,252.6"/>
<polyline points="536.7,269.7 537.0,268.3 543.0,268.3 549.0,268.7 553.7,270.0 556.3,268.3 561.7,269.3 564.7,272.3 566.3,271.2 571.7,270.0 574.3,267.3 575.7,266.0"/>
<polyline points="565.3,272.3 567.7,276.7 569.7,279.3 571.0,282.0 572.3,283.3 571.7,286.3 573.0,290.0 573.3,291.3 571.7,293.3 569.0,295.3 568.3,298.7 567.0,301.3 567.7,304.0 568.3,307.3 570.3,308.0 570.7,310.0"/>
<polyline points="571.0,309.9 577.6,310.8 586.9,308.9 596.3,307.0 602.0,302.3 604.8,297.6 605.7,292.0 610.4,290.1 612.3,288.3 610.4,282.2"/>
<polyline points="612.3,288.3 614.2,293.9 614.2,299.5 618.9,302.3 620.7,304.2 628.3,302.3 634.8,302.9"/>
<polyline points="577.6,310.8 564.4,312.7 556.9,315.5 551.3,320.2 546.6,324.9 542.8,322.1 540.0,317.4"/>
<polyline points="536.7,269.7 536.7,272.7 536.7,276.7 537.7,278.3 541.7,278.7 543.7,280.7 546.3,282.0 548.3,281.7 551.7,283.3 553.7,284.7 553.0,287.3 552.7,291.3 553.7,294.0 555.0,296.0 555.3,299.0"/>
<polyline points="571.7,287.3 568.3,288.7 565.0,290.3 563.7,292.7 563.0,295.3 561.3,297.3 558.3,298.0 555.3,299.2"/>
<polyline points="546.6,324.9 551.3,322.1 558.8,321.1 564.4,322.1 568.2,327.7 571.0,333.7"/>
<polyline points="525.0,283.3 527.0,284.7 531.7,284.7 533.3,284.3 535.7,286.7 537.7,288.3 539.3,291.3 541.7,293.3 543.7,294.7 544.3,297.3 545.7,300.7 547.0,302.3 549.7,301.3 550.3,298.7 553.0,298.0 555.3,299.0"/>
<polyline points="590.0,203.9 597.5,203.0 602.2,204.9 604.1,211.4 601.3,219.0 600.3,221.0"/>
<polyline points="466.3,169.5 467.8,177.0 471.0,182.6 474.7,188.3 473.8,193.9 477.6,198.6 482.2,203.3 486.9,208.9 493.5,212.7 490.7,217.4 486.0,222.1 482.2,227.7 480.4,234.3 475.7,241.0"/>
<polyline points="440.0,186.4 447.5,186.8 451.3,189.2 458.8,188.3 466.3,190.1 473.8,191.1 481.3,191.1 488.8,191.1 496.3,192.0 503.8,192.0 507.6,194.8 512.3,198.6 517.0,197.3 521.7,200.5 526.4,202.3 533.0,202.9 534.8,206.1 537.6,208.9 545.2,208.0 551.7,205.2 558.3,202.3 561.1,208.0 563.9,210.8 564.9,216.4 569.6,220.2 572.4,225.8 574.3,231.4 575.2,233.7 582.7,232.4 590.2,229.6 595.9,227.7 600.5,223.9 601.5,218.3 604.3,212.7 603.0,206.1 599.6,203.3 592.1,202.9 586.5,201.4 582.7,197.6 583.6,192.0 580.8,186.4 578.0,180.7 577.1,175.1 579.9,169.5 583.6,163.8 580.8,156.3 579.0,148.8 577.1,141.3 578.0,134.7"/>
<polyline points="536.7,159.7 537.6,165.7 536.7,173.2 533.0,178.9 533.9,184.5 532.0,192.0 531.1,197.6 533.0,202.9"/>
<polyline points="321.0,152.5 318.0,156.0 315.0,161.5 313.5,167.0 314.0,170.5"/>
<polyline points="236.7,220.0 234.7,224.0 232.7,230.7"/>
<polyline points="383.3,177.0 381.4,171.4 378.6,165.7 377.6,160.1 378.6,155.4 375.8,151.6 371.1,148.8 366.4,146.9"/>
<polyline points="449.0,186.4 441.5,186.8 434.0,187.9 430.2,190.1 430.2,197.6 430.2,205.2 432.1,208.9 429.3,212.7 422.7,213.6 417.1,216.4 413.3,220.2 415.2,224.9 410.5,228.6"/>
<polyline points="232.9,229.0 234.7,232.8 233.4,237.4 237.6,242.1 239.4,247.8 244.1,250.6 249.8,251.5 255.4,253.4 261.0,255.3 262.0,260.9 262.9,264.7 269.5,266.6 277.0,266.6 282.6,265.6 288.3,264.3 295.8,264.7 302.3,263.7 308.0,265.6 312.7,267.5 317.4,264.7 320.2,262.8"/>
<polyline points="277.0,266.6 282.6,269.4 289.2,271.2 293.9,275.0 296.7,279.7 297.6,285.3 293.9,290.0 286.4,292.8 278.9,294.7 272.3,294.7 265.7,296.6 258.2,296.6 249.8,297.5 243.2,301.3 235.7,304.1 228.2,305.1 220.7,304.1 211.3,303.2 203.8,300.4 200.0,299.4"/>
<polyline points="265.7,296.6 264.8,302.2 264.8,306.0 258.2,306.0 250.7,307.9 249.8,313.5 246.0,316.3 245.1,319.1 238.5,321.9 231.9,321.9 224.4,320.1 216.9,319.5 210.3,320.1 209.4,326.6 202.8,331.3 206.6,337.0 214.1,341.7 212.2,348.2 209.4,353.9 200.0,355.8"/>
<polyline points="331.4,315.4 339.0,315.4 344.6,316.3 350.2,317.3 355.9,314.4 361.5,316.3 369.0,315.0"/>
<polyline points="331.4,315.4 332.4,321.0 335.2,323.8 329.6,327.6 327.7,333.2 323.0,337.0 318.3,341.7 319.2,346.4 323.9,350.1 329.6,351.1 331.4,353.9 325.8,354.8 323.0,358.6 320.2,364.2 314.5,367.0 310.8,370.0"/>
<polyline points="329.6,351.1 333.3,358.6 331.4,364.2 329.6,370.0"/>
<polyline points="213.1,370.0 214.1,368.9 222.5,368.3 230.0,368.0 233.8,362.7 237.6,363.3 242.2,368.0 243.2,370.0"/>
<polyline points="385.9,229.0 383.1,234.6 380.3,238.4 385.0,240.3 393.4,238.4 400.9,238.4 405.6,234.6 409.4,229.0"/>
<polyline points="400.9,238.4 408.4,241.2 406.6,245.9 408.4,250.6 404.7,254.3 400.0,257.2 394.4,260.0 390.6,264.7 385.0,267.5 376.5,268.4 369.0,267.5"/>
<polyline points="400.0,257.2 406.6,258.1 415.9,256.2 425.3,253.4 432.8,253.4 438.5,252.5 446.0,253.0 453.5,251.9 461.0,252.5 469.5,252.5"/>
<polyline points="475.7,241.0 471.9,242.1 474.2,246.8 469.5,252.5 470.4,259.0 471.9,264.7 465.7,267.5 464.8,273.1 470.4,276.9 476.0,278.2 481.7,275.0 489.2,275.0 497.6,274.1 500.4,269.4 508.0,265.6 513.6,261.9 519.2,260.9 524.9,258.1 530.5,256.2 538.0,254.3"/>
<polyline points="476.0,278.2 477.9,283.5 478.9,290.0 474.2,293.8 467.6,295.7 463.8,299.4 459.1,301.3 451.6,299.4 444.1,298.5 438.5,299.4 432.8,297.5 425.3,298.1 423.5,303.2 425.3,306.0 420.6,309.7 423.5,312.6 431.0,311.6 429.1,314.4 436.6,316.9 432.8,321.0 428.1,322.9 430.0,326.6 425.3,331.3 422.5,336.0 427.2,339.8 431.0,342.6 425.3,346.4 419.7,351.1 415.9,354.4 406.6,356.7 399.0,358.6 403.7,363.3 401.9,368.0 400.0,370.0"/>
<polyline points="478.9,290.0 482.6,293.8 485.4,298.5 492.0,297.5 494.8,295.7 501.4,297.0 508.0,298.5 512.6,299.4 511.7,306.0 514.5,311.6 518.3,315.4 514.5,321.0 511.7,326.6 509.8,331.3 513.6,335.1 508.9,337.9 508.0,342.6 507.0,349.2 508.9,356.7 508.0,362.3 509.8,368.0 517.3,368.9"/>
<polyline points="512.6,299.4 514.5,292.8 518.3,286.3 523.0,283.5 525.0,283.3"/>
<polyline points="430.0,326.6 436.6,323.8 444.1,322.5 449.7,324.8 453.5,326.6 461.0,325.7 466.6,323.8 470.4,325.7 471.3,331.3 474.2,336.0 479.8,339.8 477.0,343.5 474.2,346.4 477.9,349.2 483.5,352.0 491.1,351.1 498.6,351.1 503.3,348.2 507.0,349.2"/>
<polyline points="373.7,283.5 380.3,287.2 385.0,292.8 387.8,296.6 392.5,299.4 388.7,304.1 385.0,308.8 382.1,313.5 380.3,317.3 374.6,317.3 369.0,315.4"/>
<polyline points="380.3,317.3 378.4,322.9 378.4,328.5 383.1,333.2 389.7,336.0 397.2,335.1 401.9,337.0 406.6,339.8 414.1,337.9 422.5,336.0"/>
<polyline points="518.3,315.4 524.9,316.3 530.5,317.3 538.0,315.0"/>
<polyline points="535.0,256.3 534.3,260.0 534.3,264.7 534.3,269.0 536.7,269.7"/>
<polyline points="243.2,370.0 246.0,375.6 250.7,380.3 258.2,384.1 265.7,380.3 273.2,378.4 278.9,378.4 283.6,376.6 288.3,378.4 293.9,375.6 301.4,371.9 308.9,370.0"/>
<polyline points="278.9,378.4 277.9,383.1 273.2,386.9 269.5,391.6 270.4,396.3 263.8,399.1 258.2,401.9 254.5,406.6 254.5,410.4 249.8,414.1 242.2,416.0 237.6,416.9 239.4,421.6 234.7,424.5 230.0,428.2 224.4,430.1 218.8,433.8 213.1,435.7 205.6,434.8 200.0,433.8"/>
<polyline points="213.1,435.7 210.3,442.3 206.6,447.0 203.8,452.6 201.9,458.3 200.0,460.1"/>
<polyline points="329.6,370.0 330.5,373.8 323.9,375.6 316.4,377.5 314.5,380.3 315.5,385.0 310.8,389.7 308.0,394.4 306.1,398.2 307.0,404.7 305.2,410.4 310.8,411.3 310.8,416.9 309.9,424.5 310.8,430.1"/>
<polyline points="315.5,385.0 322.1,383.1 329.6,384.6 337.1,386.9 339.0,391.6 343.6,395.4 350.2,390.7 354.9,386.0 355.9,381.3 361.5,377.5 369.0,374.7"/>
<polyline points="310.8,430.1 316.4,432.0 320.2,430.1 322.1,424.5 324.9,418.8 328.6,415.1 331.4,416.0 335.2,419.8 339.0,420.7 345.5,419.8 352.1,420.7 355.9,418.8 359.6,420.7 365.2,421.6 369.0,420.7"/>
<polyline points="310.8,430.1 305.2,434.8 302.9,440.4 297.6,444.2 293.9,445.1 290.1,449.8 283.6,452.6 282.6,458.3 282.6,462.9 277.0,466.7 277.0,471.4 279.8,476.1 279.8,480.8"/>
<polyline points="369.0,453.6 363.4,455.4 361.5,458.3 364.3,462.9 369.0,463.9"/>
<polyline points="369.0,373.8 374.6,372.8 380.3,374.7 383.1,377.5 389.7,376.6 395.3,373.8 400.0,370.9 400.9,370.0"/>
<polyline points="400.0,370.9 406.6,374.7 407.5,380.3 403.7,385.0 401.9,390.7 400.0,394.4 406.6,395.4 409.4,397.2 403.7,401.0 397.2,402.9 391.5,405.7 385.9,410.4 382.1,406.6 376.5,410.4 372.8,415.1 369.0,416.9"/>
<polyline points="369.0,419.8 372.8,420.7 376.5,417.9 381.2,418.8 384.0,421.6 380.3,426.3 376.5,432.0 371.8,436.7 369.0,440.4"/>
<polyline points="409.4,397.2 412.2,388.8 415.9,387.8 421.6,391.6 429.1,395.4 432.8,400.0 431.9,403.8 436.6,408.5 441.3,412.2 445.1,415.1 443.2,419.8 446.9,422.6 451.6,426.3 447.9,430.1 444.1,432.0 446.9,434.8 449.7,438.5 455.4,440.4 461.0,442.3 466.6,443.2 468.5,444.2"/>
<polyline points="506.1,370.0 503.3,374.7 498.6,380.3 492.9,384.1 489.2,388.8 485.4,393.5 480.7,398.2 476.0,403.8 471.3,406.6 464.8,406.6 459.1,403.8 457.3,401.9 454.4,406.6 457.3,410.4 461.9,415.1 466.6,418.8 469.5,422.6 469.5,430.1 468.5,437.6 468.5,444.2 466.6,450.7 464.8,455.4 466.6,459.2 471.3,461.1"/>
<polyline points="313.8,170.0 317.6,174.7 320.4,180.3 318.5,187.8 321.4,193.5 322.3,200.0 316.7,201.5 310.1,201.9 307.3,207.6 306.3,213.2 304.5,219.8 305.4,225.4 312.0,224.5 315.7,226.3 322.3,225.4 325.1,221.6 326.1,216.0 323.2,212.2 324.2,205.7 327.9,203.8 332.6,202.9 335.4,199.1 340.1,197.2 345.8,195.3 352.3,193.5 358.9,193.5 364.5,194.0 370.2,192.5 375.8,190.7 380.5,188.8 375.8,186.0 374.9,182.2 378.6,178.4 383.3,176.6"/>
<polyline points="325.1,221.6 330.7,221.1 336.4,221.6 338.3,225.4 341.1,230.1 337.3,232.9 332.6,235.7 327.0,238.5 323.2,242.3 321.4,247.0 319.5,251.7 316.7,256.4 318.5,260.1 320.4,263.9 326.1,262.9 330.7,262.0 332.6,264.8 336.4,268.6 342.0,272.3 349.5,273.3 356.1,272.9 358.0,278.0 358.9,282.7 362.7,285.5 368.3,283.6 374.9,282.7 375.8,278.0 372.1,274.2 368.3,270.5"/>
<polyline points="375.8,190.7 370.2,195.3 368.3,200.0 373.0,204.7 379.6,208.5 385.2,212.2 384.3,219.8 387.1,225.4 386.1,230.1"/>
</g>
<g fill="none" stroke="#000" stroke-width="2.05" stroke-linejoin="round" stroke-linecap="round">
<polyline points="65.3,362.7 60.7,361.4 49.4,358.6 46.6,351.1 43.8,346.4 44.1,339.8 41.5,331.3 42.3,326.6 47.5,321.0 52.2,317.6 59.7,318.2 64.0,317.3 61.6,312.6 59.7,307.9 55.0,306.0 56.0,304.1 64.4,300.4 69.1,298.5 71.0,291.0 74.7,283.5 75.7,275.9 76.1,271.2 74.7,268.4 75.7,262.8 78.5,260.0 80.4,253.4 85.1,244.0 89.8,242.5 91.6,245.9 96.3,249.7 102.0,253.4 109.5,254.3 117.0,253.4 122.6,252.5 127.3,253.0 132.0,256.2 137.6,260.9 141.4,263.7 142.9,270.7 147.0,266.6 152.7,262.8 157.4,264.7 161.1,266.6 164.9,265.6 169.6,262.4 175.2,259.0 180.8,256.2 187.4,253.4 188.3,247.8 189.3,243.1 195.9,239.3 190.2,236.5 188.3,230.9 190.2,229.0"/>
<polyline points="188.3,253.3 188.7,246.0 188.0,242.7 191.3,240.7 196.0,239.3 192.0,237.3 190.0,234.0 188.0,232.0 188.7,230.0 200.0,229.6 212.0,227.3 213.3,224.7 222.7,222.7 234.7,220.0 240.0,220.0 241.3,222.0 242.0,216.0 248.0,213.3 253.3,213.3 256.0,210.0 264.0,208.0 269.3,204.0 272.7,200.0"/>
<polyline points="272.5,200.0 273.5,194.0 273.0,188.0 275.0,183.0 278.0,178.0 281.5,173.0 283.0,170.0 282.8,165.0 281.8,161.5 280.8,159.5 285.0,157.5 290.0,155.0 295.0,152.8 300.0,151.8 305.0,151.5 310.0,152.0 315.0,152.8 320.0,152.0 325.0,151.0 329.0,148.0 331.5,145.0 332.0,140.0"/>
<polyline points="331.1,140.4 333.5,135.7 337.3,134.7 341.0,136.6 344.8,139.1 350.4,139.8 355.1,140.4 358.9,143.6 364.5,145.4 370.1,146.6 375.8,146.0 382.3,144.7 388.9,146.0 394.5,145.1 400.2,145.1 404.9,143.2 409.6,144.1 413.3,146.0 416.1,149.8 419.9,152.6 423.6,154.5 428.3,153.5 433.0,151.6 436.8,149.8 439.6,152.6"/>
<polyline points="440.0,153.5 444.7,153.5 449.4,154.5 452.2,158.2 454.1,161.0 457.8,162.9 461.6,166.7 466.3,169.5 471.0,166.7 475.7,163.8 479.4,161.0 485.1,158.2 490.7,156.3 496.3,154.5 501.0,151.6 504.8,149.8 508.5,150.7 512.3,148.8 515.1,146.9 517.9,147.9 522.6,151.6 527.3,155.4 532.0,158.2 536.7,159.7 542.3,157.3 545.2,153.5 542.9,149.8 541.8,142.2 545.2,137.6 549.9,133.8 556.4,132.9 563.9,132.9 570.5,131.0 574.3,131.9 577.1,133.8 582.7,134.7 588.3,133.4 591.2,130.0 593.0,125.3 594.0,120.7 590.2,117.8 587.4,115.0 589.3,111.3 594.9,108.5 598.7,104.7 603.4,101.9 605.2,100.0"/>
<polyline points="590.0,111.9 593.8,108.2 598.5,103.5 604.1,100.7 607.8,96.0 611.6,90.3 615.4,85.6 620.0,83.4 626.6,82.8 632.2,81.9 636.0,83.8 639.8,86.6 644.5,88.5 650.1,91.3 653.8,94.1 654.8,98.8 652.0,103.5 649.1,108.2 648.2,112.9 652.9,114.7 659.5,112.3 665.1,112.3 667.4,115.7 666.0,120.4 663.2,126.0 662.3,132.6 661.0,139.2 661.4,145.7 659.5,152.3 658.0,158.9 659.5,166.4 662.3,172.9 665.1,178.6 668.9,182.3 674.5,184.2 681.1,183.3 687.6,179.5 695.2,173.9 702.7,170.1 710.2,166.8 717.7,165.4 725.2,164.5 729.9,160.7 732.7,156.1 735.5,152.3 742.1,150.4 748.7,147.6 753.4,143.8 759.0,142.9"/>
<polyline points="754.7,143.6 760.4,140.9 765.1,139.1 770.7,139.4 776.3,139.1 782.0,140.4 788.5,140.4 790.4,144.1 788.5,146.9 782.9,148.4 781.0,150.7 785.7,152.2 792.3,152.6 797.0,150.3 804.5,148.4 812.0,146.6 815.8,143.2 822.3,142.2 828.9,142.2 834.5,144.1 841.1,143.2 846.8,145.1 851.4,149.2 852.9,151.6 849.6,154.1 845.8,151.1 841.1,149.8 835.5,151.1 830.8,153.5 828.9,157.3 832.7,161.0 833.6,164.8 830.8,166.7 827.0,164.8 822.3,167.6 817.6,171.0 812.0,172.3 807.3,175.1 801.7,175.1 797.0,172.3 792.3,170.4 785.7,171.4 778.2,172.3 770.7,171.7 763.2,172.3 755.7,172.3"/>
<polyline points="759.0,171.6 753.4,172.0 744.0,172.9 734.6,172.9 725.2,173.9 715.8,175.8 707.4,177.6 700.8,180.5 698.0,184.2 691.4,188.0 684.8,191.7 680.1,194.5 678.3,199.2 674.5,196.4 670.7,194.5 668.9,197.4 665.1,202.1 659.5,205.8 652.9,211.4 646.3,216.1 642.6,221.0"/>
<polyline points="667.7,200.0 663.9,202.8 657.4,208.4 649.9,214.1 644.2,218.8 648.9,221.6 654.5,226.3 660.2,231.9 663.0,237.6 663.9,243.2 668.6,246.9 669.9,253.5 666.2,258.2 668.6,262.9 672.4,266.1 669.6,269.5 664.9,273.2 663.0,277.9 657.4,282.6 650.8,287.3 644.2,292.0 638.6,295.8 637.6,301.4 634.8,304.2 635.8,308.0 640.5,310.8 642.9,314.5 642.3,320.2 640.5,325.8 636.7,330.5 630.1,333.7 620.7,336.1 609.5,338.0 598.2,338.0 586.9,336.1 577.6,334.3 571.0,333.7 569.1,337.1 570.0,341.0"/>
<polyline points="639.0,330.9 629.6,333.8 620.2,336.6 609.0,337.9 597.7,337.1 586.4,334.7 577.0,331.5 571.4,331.9 569.5,334.7 571.4,338.4 574.2,343.1 578.0,347.8 584.5,349.7 587.9,354.4 588.3,361.0 592.1,365.7 595.4,369.4 592.1,374.1 586.4,377.9 579.9,380.7 574.2,384.5 568.6,385.4 563.9,383.5 558.3,385.4 551.7,386.3 547.9,390.1 547.9,394.8 550.4,398.5 545.1,401.4 542.3,404.2 544.2,407.0 546.0,410.7 542.3,414.5 536.7,417.3 534.2,422.0 535.7,425.8 536.1,435.2 537.2,444.5 538.5,452.1 534.8,454.9 530.1,459.6 526.3,465.2 520.7,469.0 513.2,469.9 506.6,467.1 501.9,461.4 498.2,457.7 494.4,457.7 486.9,460.5 480.3,461.4 475.6,458.6 470.0,457.7"/>
<polyline points="490.7,462.0 497.2,462.8"/>
<polyline points="499.0,456.9 495.2,457.8 488.7,460.7 483.0,460.7 478.3,458.8 473.6,457.8 469.9,460.7 465.2,465.4 457.7,468.2 450.2,471.9 443.6,474.7 441.7,477.6 444.5,480.4 451.1,480.4 453.0,483.2 448.3,486.9 440.8,489.8 433.3,491.6 425.8,492.6 418.3,490.7 411.7,491.6 409.8,487.9 405.1,486.0 398.5,487.9 393.8,491.6 390.1,496.3 385.4,502.9 378.8,505.7 372.8,507.6 370.4,517.0 368.5,524.5 368.5,532.0 371.3,536.7 369.4,545.2 368.5,552.7 364.7,556.4 372.2,563.0 365.7,568.6 354.4,571.4 341.3,575.2 330.0,579.0"/>
<polyline points="366.2,568.3 357.7,570.1 342.7,573.9 327.7,578.6 312.7,583.3 300.5,586.7 293.9,587.0 284.5,586.1 275.1,584.8 267.6,584.8 262.0,586.1 254.5,588.0 246.9,591.7 245.1,595.5 237.6,593.6 228.2,591.7 218.8,589.9 209.4,589.9 200.0,590.8"/>
<polyline points="210.0,589.2 193.3,590.8 176.7,592.0 158.3,594.7 150.8,594.7 63.3,568.0 114.2,513.3 115.0,506.7 115.8,500.0 114.2,493.3 112.5,485.8 108.3,482.5 98.3,481.3 85.0,480.0"/>
<polyline points="110.4,483.9 104.8,483.0 96.3,482.1 83.2,480.2 70.0,477.9 61.0,475.5 59.7,468.0 58.8,459.5 58.8,448.3 60.3,442.6 62.9,437.0 61.0,431.4 60.3,423.8 57.8,416.3 54.1,406.9 51.3,399.4 48.5,391.0 45.6,384.4 47.5,379.7 54.1,373.1 61.6,367.9 62.2,364.7 64.4,361.5"/>
</g>
<!--TEXT-->
<text x="19.5" y="47.9" font-size="29.85" font-weight="bold">Afghanistan</text>
<text x="19.8" y="672.7" font-size="18.2" font-weight="bold" textLength="109.6" lengthAdjust="spacingAndGlyphs">Precipitation</text>
<text x="19.8" y="702.8" font-size="18" stroke="#000" stroke-width="0.35">Dekad 1 February 2026</text>
<text x="19.8" y="733.1" font-size="18" stroke="#000" stroke-width="0.35">ECMWF</text>
<text x="19.8" y="762.8" font-size="18" stroke="#000" stroke-width="0.35">WGS84, Geographic Lat/Lon</text>
<text x="470" y="664.7" font-size="14.4" font-weight="bold" text-decoration="underline">mm/dekad</text>
<g>
<rect x="470" y="671" width="28" height="14" fill="#c0c0c0" shape-rendering="crispEdges"/>
<text transform="translate(509.8,681.3) scale(1.07,1)" font-size="9.9" stroke="#000" stroke-width="0.15">0</text>
<rect x="470" y="688" width="28" height="14" fill="#fffccc" shape-rendering="crispEdges"/>
<text transform="translate(509.8,698.3) scale(1.07,1)" font-size="9.9" stroke="#000" stroke-width="0.15">0 - 5</text>
<rect x="470" y="705" width="28" height="14" fill="#f0dab8" shape-rendering="crispEdges"/>
<text transform="translate(509.8,715.3) scale(1.07,1)" font-size="9.9" stroke="#000" stroke-width="0.15">5 - 10</text>
<rect x="470" y="722" width="28" height="14" fill="#b2faaa" shape-rendering="crispEdges"/>
<text transform="translate(509.8,732.3) scale(1.07,1)" font-size="9.9" stroke="#000" stroke-width="0.15">10 - 20</text>
<rect x="470" y="739" width="28" height="14" fill="#78f573" shape-rendering="crispEdges"/>
<text transform="translate(509.8,749.3) scale(1.07,1)" font-size="9.9" stroke="#000" stroke-width="0.15">20 - 30</text>
<rect x="470" y="756" width="28" height="14" fill="#37d23c" shape-rendering="crispEdges"/>
<text transform="translate(509.8,766.3) scale(1.07,1)" font-size="9.9" stroke="#000" stroke-width="0.15">30 - 40</text>
<rect x="470" y="773" width="28" height="14" fill="#b4f0fa" shape-rendering="crispEdges"/>
<text transform="translate(509.8,783.3) scale(1.07,1)" font-size="9.9" stroke="#000" stroke-width="0.15">40 - 50</text>
<rect x="470" y="790" width="28" height="14" fill="#50a5f5" shape-rendering="crispEdges"/>
<text transform="translate(509.8,800.3) scale(1.07,1)" font-size="9.9" stroke="#000" stroke-width="0.15">50 - 75</text>
<rect x="470" y="807" width="28" height="14" fill="#1e6eeb" shape-rendering="crispEdges"/>
<text transform="translate(509.8,817.3) scale(1.07,1)" font-size="9.9" stroke="#000" stroke-width="0.15">75 - 100</text>
<rect x="470" y="824" width="28" height="14" fill="#ffe878" shape-rendering="crispEdges"/>
<text transform="translate(509.8,834.3) scale(1.07,1)" font-size="9.9" stroke="#000" stroke-width="0.15">100 - 150</text>
<rect x="470" y="841" width="28" height="14" fill="#ffa000" shape-rendering="crispEdges"/>
<text transform="translate(509.8,851.3) scale(1.07,1)" font-size="9.9" stroke="#000" stroke-width="0.15">150 - 200</text>
<rect x="470" y="858" width="28" height="14" fill="#ff3000" shape-rendering="crispEdges"/>
<text transform="translate(509.8,868.3) scale(1.07,1)" font-size="9.9" stroke="#000" stroke-width="0.15">&gt; 200</text>
</g>
<!--LOGO-->
<g transform="translate(701.0,759.4)">
<circle cx="0" cy="0" r="26.65" fill="#fff" stroke="#111" stroke-width="2.9"/>
<g font-weight="bold" font-size="15.2" style="fill:#111" stroke="#111" stroke-width="0.25">
<text x="-22.3" y="1.2" style="fill:#111">F</text>
<text x="0" y="-11.2" text-anchor="middle" style="fill:#111">A</text>
<text transform="translate(18.0,1.5) scale(0.86,1)" x="0" y="0" text-anchor="middle" style="fill:#111">O</text>
</g>
<g fill="none" stroke="#111" stroke-width="1.25" stroke-linecap="butt" stroke-linejoin="miter">
<path d="M-15.6,-19.2 L-5.0,7.6"/><path d="M15.6,-19.2 L5.0,7.6"/>
<path d="M-12.8,-20.9 L-1.9,6.0 L0,7.9 L1.9,6.0 L12.8,-20.9"/>
<path d="M-10.4,-21.5 L-1.6,0.8 L0,2.3 L1.6,0.8 L10.4,-21.5"/>
</g>
<path d="M-3.3,2.5 L0,5.3 L3.3,2.5 L2.0,6.3 L0,8.2 L-2.0,6.3Z" fill="#111"/>
<path d="M-3.9,-4.8 L-2.2,-6.0 L0,-3.4 L2.2,-6.0 L3.9,-4.8 L1.4,1.5 L0,2.9 L-1.4,1.5Z" fill="#111"/>
<path d="M0,-11.0 C1.7,-8.8 2.1,-7.6 2.1,-6.6 A2.1,2.1 0 0 1 -2.1,-6.6 C-2.1,-7.6 -1.7,-8.8 0,-11.0Z" fill="#111" stroke="#fff" stroke-width="0.8"/>
<path d="M0,9.4 C1.2,7.0 4.8,6.0 6.2,7.6 C7.6,9.6 6.4,13.4 3.3,14.8 C1.8,15.4 0.9,15.6 0,16.6 C-0.9,15.6 -1.8,15.4 -3.3,14.8 C-6.4,13.4 -7.6,9.6 -6.2,7.6 C-4.8,6.0 -1.2,7.0 0,9.4Z" fill="#111"/>
<rect x="-0.95" y="12" width="1.9" height="13.6" fill="#111"/>
<text transform="translate(-20.67,10.31) rotate(63.5)" text-anchor="middle" font-size="6.3" font-weight="bold" style="fill:#111" stroke="#111" stroke-width="0.2">F</text>
<text transform="translate(-17.82,14.69) rotate(50.5)" text-anchor="middle" font-size="6.3" font-weight="bold" style="fill:#111" stroke="#111" stroke-width="0.2">I</text>
<text transform="translate(-13.90,18.45) rotate(37.0)" text-anchor="middle" font-size="6.3" font-weight="bold" style="fill:#111" stroke="#111" stroke-width="0.2">A</text>
<text transform="translate(-8.09,21.64) rotate(20.5)" text-anchor="middle" font-size="6.3" font-weight="bold" style="fill:#111" stroke="#111" stroke-width="0.2">T</text>
<text transform="translate(6.95,22.03) rotate(-17.5)" text-anchor="middle" font-size="6.3" font-weight="bold" style="fill:#111" stroke="#111" stroke-width="0.2">P</text>
<text transform="translate(11.20,20.20) rotate(-29.0)" text-anchor="middle" font-size="6.3" font-weight="bold" style="fill:#111" stroke="#111" stroke-width="0.2">A</text>
<text transform="translate(15.61,17.03) rotate(-42.5)" text-anchor="middle" font-size="6.3" font-weight="bold" style="fill:#111" stroke="#111" stroke-width="0.2">N</text>
<text transform="translate(19.26,12.75) rotate(-56.5)" text-anchor="middle" font-size="6.3" font-weight="bold" style="fill:#111" stroke="#111" stroke-width="0.2">I</text>
<text transform="translate(21.57,8.28) rotate(-69.0)" text-anchor="middle" font-size="6.3" font-weight="bold" style="fill:#111" stroke="#111" stroke-width="0.2">S</text>
</g>
<g fill="#1a1a1a" font-weight="bold" font-size="14">
<text x="738.6" y="748" textLength="138.6" lengthAdjust="spacingAndGlyphs" style="fill:#1a1a1a">Food and Agriculture</text>
<text x="738.6" y="765.9" textLength="128.8" lengthAdjust="spacingAndGlyphs" style="fill:#1a1a1a">Organization of the</text>
<text x="738.6" y="783.5" textLength="99.3" lengthAdjust="spacingAndGlyphs" style="fill:#1a1a1a">United Nations</text>
</g>
<rect x="672.8" y="802" width="214.7" height="1.5" fill="#111"/>
<text x="672.6" y="826.7" font-size="14.2" textLength="186.4" lengthAdjust="spacingAndGlyphs" style="fill:#333">Global Information and Early</text>
<text x="672.6" y="844.8" font-size="14.2" textLength="162.8" lengthAdjust="spacingAndGlyphs" style="fill:#333">Warning System – GIEWS</text>
<text x="15.6" y="920" font-size="10.4" textLength="840.5" lengthAdjust="spacingAndGlyphs">Disclaimer: The boundaries and names shown and the designations used on this map do not imply the expression of any opinion whatsoever on the part of FAO</text>
<text x="15.6" y="933.8" font-size="10.4" textLength="732" lengthAdjust="spacingAndGlyphs">concerning the legal status of any country, territory, area or of its authorities, or concerning the delimitation of its frontiers and boundaries.</text>
<rect x="1" y="1" width="898" height="948" fill="none" stroke="#000" stroke-width="2"/>
</svg>
</body></html>
